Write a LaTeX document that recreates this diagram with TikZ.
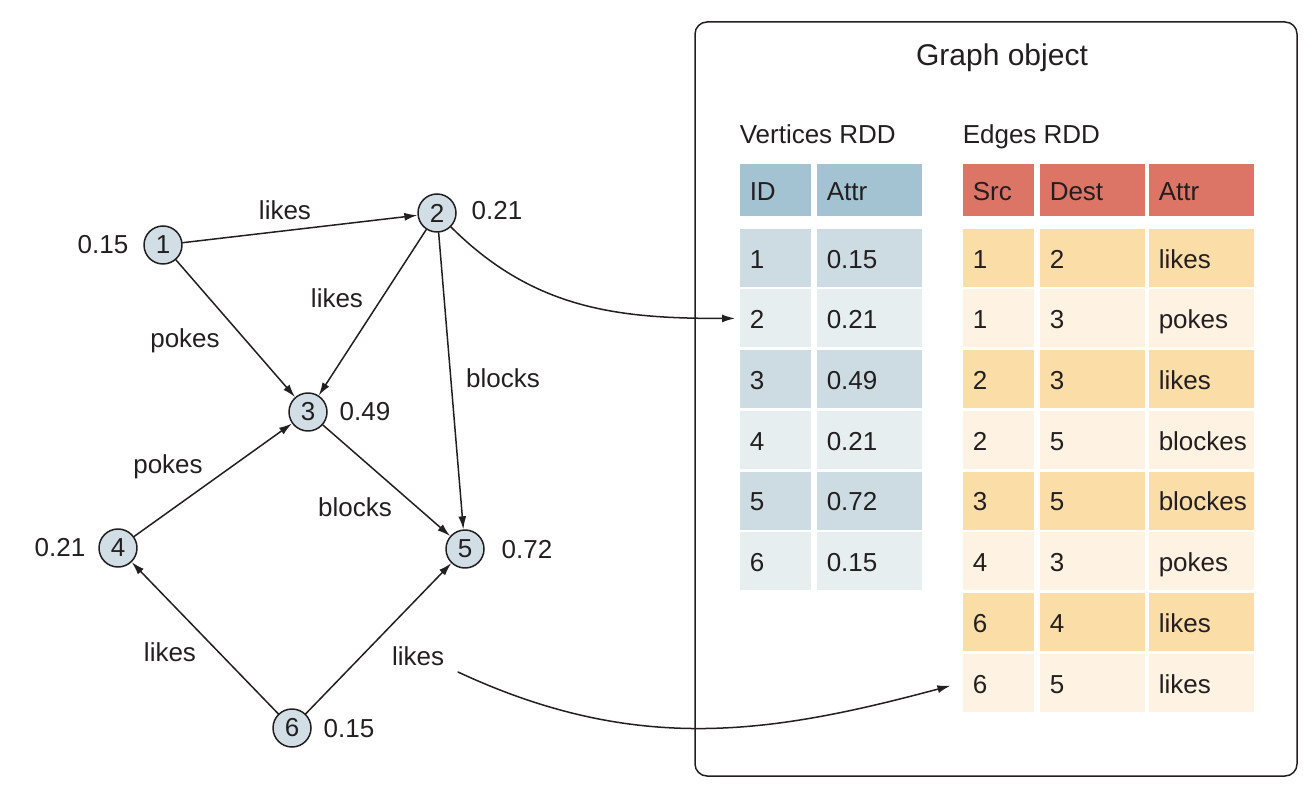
\documentclass[tikz,border=0pt]{standalone}
\usepackage{fontspec}
\setmainfont{Liberation Sans}
\usetikzlibrary{arrows.meta}
\definecolor{ink}{HTML}{231F20}
\definecolor{vtxFill}{HTML}{D2DEE5}
\definecolor{vHead}{HTML}{A3C3D2}
\definecolor{vDark}{HTML}{CDDCE3}
\definecolor{vLight}{HTML}{E6EEF0}
\definecolor{eHead}{HTML}{DC7565}
\definecolor{eDark}{HTML}{FBDDA8}
\definecolor{eLight}{HTML}{FEF3E3}
\begin{document}
\begin{tikzpicture}[x=.5pt,y=.5pt,line width=.75pt,>={Latex[length=6.5pt,width=4pt]},
  line cap=round,line join=round,font=\fontsize{13}{15}\selectfont,color=ink,
  vtx/.style={circle,draw=ink,fill=vtxFill,minimum size=19pt,inner sep=0pt},
  cell/.style={rectangle,anchor=north west,inner xsep=5pt,inner ysep=0pt,
    minimum height=29pt,align=left,text height=1.26em,text depth=.22em},
  headcell/.style={cell,minimum height=26pt},
  narrow/.style={text width=25.5pt},
  wide/.style={text width=42.5pt},
  plain/.style={inner sep=0pt}]
  \useasboundingbox (0,0) rectangle (1310,-806);
  % graph
  \node[vtx] (n1) at (163,-245) {1};
  \node[vtx] (n2) at (437,-213) {2};
  \node[vtx] (n3) at (308,-412) {3};
  \node[vtx] (n4) at (118,-548) {4};
  \node[vtx] (n5) at (465,-549) {5};
  \node[vtx] (n6) at (292,-728) {6};
  \node (w1) at (103,-245) {0.15};
  \node (w2) at (497,-211) {0.21};
  \node (w3) at (365,-412) {0.49};
  \node (w4) at (60,-548) {0.21};
  \node (w5) at (527,-550) {0.72};
  \node (w6) at (349,-729) {0.15};
  \draw[->] (n1) -- (n2);
  \draw[->] (n1) -- (n3);
  \draw[->] (n2) -- (n3);
  \draw[->] (n2) -- (n5);
  \draw[->] (n3) -- (n5);
  \draw[->] (n4) -- (n3);
  \draw[->] (n6) -- (n4);
  \draw[->] (n6) -- (n5);
  \node (l12) at (285,-210) {likes};
  \node (l13) at (185,-341) {pokes};
  \node (l23) at (337,-298) {likes};
  \node (l25) at (503,-378) {blocks};
  \node (l43) at (168,-467) {pokes};
  \node (l35) at (355,-507) {blocks};
  \node (l64) at (170,-652) {likes};
  \node (l65) at (418,-656) {likes};
  % graph object
  \draw[rounded corners=6pt] (695,-22) rectangle (1297,-776);
  \node (gtitle) at (1002,-58) {\fontsize{15}{18}\selectfont Graph object};
  \node[plain,anchor=base west] (vtitle) at (739,-144) {Vertices RDD};
  \node[plain,anchor=base west] (etitle) at (962,-144) {Edges RDD};
  \node[headcell,narrow,fill=vHead] (vha) at (739,-163) {ID};
  \node[headcell,wide,fill=vHead] (vhb) at (816,-163) {Attr};
  \node[headcell,narrow,fill=eHead] (eha) at (962,-163) {Src};
  \node[headcell,wide,fill=eHead] (ehb) at (1039,-163) {Dest};
  \node[headcell,wide,fill=eHead] (ehc) at (1148,-163) {Attr};
  \foreach \id/\at/\c [count=\r] in {1/0.15/vDark,2/0.21/vLight,3/0.49/vDark,
      4/0.21/vLight,5/0.72/vDark,6/0.15/vLight}{
    \node[cell,narrow,fill=\c] (v\r a) at (739,{-228-60.7*(\r-1)}) {\id};
    \node[cell,wide,fill=\c] (v\r b) at (816,{-228-60.7*(\r-1)}) {\at};
  }
  \foreach \s/\d/\at/\c [count=\r] in {1/2/likes/eDark,1/3/pokes/eLight,
      2/3/likes/eDark,2/5/blockes/eLight,3/5/blockes/eDark,4/3/pokes/eLight,
      6/4/likes/eDark,6/5/likes/eLight}{
    \node[cell,narrow,fill=\c] (e\r a) at (962,{-228-60.7*(\r-1)}) {\s};
    \node[cell,wide,fill=\c] (e\r b) at (1039,{-228-60.7*(\r-1)}) {\d};
    \node[cell,wide,fill=\c] (e\r c) at (1148,{-228-60.7*(\r-1)}) {\at};
  }
  % links into the tables
  \coordinate (c65) at (458,-672);
  \draw[->,shorten >=2pt] (n2) to[out=-45,in=180] (v2a.west);
  \draw[->,shorten >=6pt] (c65) to[out=-25,in=195] (e8a.west);
\end{tikzpicture}
\end{document}
